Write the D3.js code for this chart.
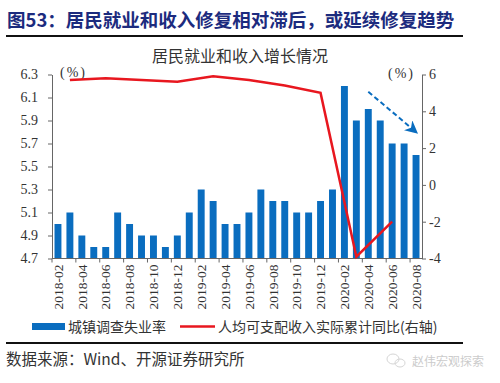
<!DOCTYPE html>
<html>
<head>
<meta charset="utf-8">
<script src="https://cdn.jsdelivr.net/npm/d3@7"></script>
<style>
  body { margin: 0; background: #fff; }
</style>
</head>
<body>
<div id="chart"></div>
<script>
const months = [
  "2018-02","2018-03","2018-04","2018-05","2018-06","2018-07","2018-08","2018-09","2018-10","2018-11","2018-12",
  "2019-01","2019-02","2019-03","2019-04","2019-05","2019-06","2019-07","2019-08","2019-09","2019-10","2019-11","2019-12",
  "2020-01","2020-02","2020-03","2020-04","2020-05","2020-06","2020-07","2020-08"
];
const unemployment = [
  5.0,5.1,4.9,4.8,4.8,5.1,5.0,4.9,4.9,4.8,4.9,
  5.1,5.3,5.2,5.0,5.0,5.1,5.3,5.2,5.2,5.1,5.1,5.2,
  5.3,6.2,5.9,6.0,5.9,5.7,5.7,5.6
];
const incomeMonths = ["2018-03","2018-06","2018-09","2018-12","2019-03","2019-06","2019-09","2019-12","2020-03","2020-06"];
const income = [5.7, 5.8, 5.7, 5.6, 5.9, 5.7, 5.4, 5.0, -3.9, -2.0];
const leftTicks = [4.7, 4.9, 5.1, 5.3, 5.5, 5.7, 5.9, 6.1, 6.3];
const rightTicks = [-4, -2, 0, 2, 4, 6];
const labelMonths = months.filter((m, i) => i % 2 === 0);

const width = 500, height = 383;
const plotLeft = 52, plotRight = 422, plotTop = 74.5, plotBottom = 258.5;
const serif = "'Liberation Serif', 'Times New Roman', serif";
const cjk = "'Noto Sans CJK SC', sans-serif";
const blue = "#0a6dbf", red = "#e8171f";

let svg = d3.select("#chart").append("svg")
  .attr("width", width)
  .attr("height", height);

// header
svg.append("text")
  .attr("x", 7).attr("y", 27)
  .style("font-family", cjk)
  .style("font-size", "18.5px")
  .style("font-weight", "bold")
  .style("fill", "#1c2b7e")
  .text("图53：居民就业和收入修复相对滞后，或延续修复趋势");

svg.append("line")
  .attr("x1", 6).attr("x2", 463).attr("y1", 36).attr("y2", 36)
  .style("stroke", "#111").style("stroke-width", 2);

svg.append("text")
  .attr("x", 240).attr("y", 62)
  .attr("text-anchor", "middle")
  .style("font-family", cjk)
  .style("font-size", "16px")
  .style("fill", "#333")
  .text("居民就业和收入增长情况");

const x = d3.scaleBand().domain(months).range([plotLeft, plotRight])
  .paddingInner(0.42).paddingOuter(0.21);
const yL = d3.scaleLinear().domain([4.7, 6.3]).range([plotBottom, plotTop]);
const yR = d3.scaleLinear().domain([-4, 6]).range([plotBottom, plotTop]);

// bars
svg.append("g").selectAll("rect")
  .data(unemployment)
  .enter()
  .append("rect")
  .attr("x", (d, i) => x(months[i]))
  .attr("y", d => yL(d))
  .attr("width", x.bandwidth())
  .attr("height", d => plotBottom - yL(d))
  .style("fill", blue);

// axes
function styleAxis(g) {
  g.select(".domain").style("stroke", "#666");
  g.selectAll(".tick line").style("stroke", "#666");
  g.selectAll("text")
    .style("font-family", serif)
    .style("font-size", "14px")
    .style("fill", "#333");
}

svg.append("g")
  .attr("transform", "translate(" + plotLeft + ",0)")
  .call(d3.axisLeft(yL).tickValues(leftTicks).tickSize(4).tickSizeOuter(0)
    .tickPadding(10).tickFormat(d3.format(".1f")))
  .call(styleAxis);

svg.append("g")
  .attr("transform", "translate(" + plotRight + ",0)")
  .call(d3.axisRight(yR).tickValues(rightTicks).tickSize(4).tickSizeOuter(0)
    .tickPadding(3).tickFormat(d => String(d)))
  .call(styleAxis);

// x axis
let xg = svg.append("g");
xg.append("line")
  .attr("x1", plotLeft).attr("x2", plotRight).attr("y1", plotBottom).attr("y2", plotBottom)
  .style("stroke", "#666");
xg.selectAll(".xtick")
  .data(labelMonths)
  .enter()
  .append("line")
  .attr("x1", d => x(d) - x.step() * x.paddingOuter())
  .attr("x2", d => x(d) - x.step() * x.paddingOuter())
  .attr("y1", plotBottom).attr("y2", plotBottom + 4)
  .style("stroke", "#666");
xg.selectAll(".xlabel")
  .data(labelMonths)
  .enter()
  .append("text")
  .attr("transform", d => "translate(" + (x(d) + x.bandwidth() / 2) + "," + (plotBottom + 6) + ") rotate(-90)")
  .attr("text-anchor", "end")
  .attr("dy", "0.35em")
  .style("font-family", serif)
  .style("font-size", "13.5px")
  .style("fill", "#333")
  .text(d => d);

// unit labels
svg.append("text")
  .attr("x", 60).attr("y", 77)
  .style("font-family", serif).style("font-size", "14px")
  .style("letter-spacing", "2px").style("fill", "#333")
  .text("(%)");
svg.append("text")
  .attr("x", 388).attr("y", 78)
  .style("font-family", serif).style("font-size", "14px")
  .style("letter-spacing", "2px").style("fill", "#333")
  .text("(%)");

// income line
const line = d3.line()
  .x((d, i) => x(incomeMonths[i]) + x.bandwidth() / 2)
  .y(d => yR(d));
svg.append("path")
  .datum(income)
  .attr("d", line)
  .style("fill", "none")
  .style("stroke", red)
  .style("stroke-width", 2.5);

// dashed arrow annotation
svg.append("defs").append("marker")
  .attr("id", "arrow")
  .attr("viewBox", "0 0 10 10")
  .attr("refX", 8).attr("refY", 5)
  .attr("markerWidth", 6.5).attr("markerHeight", 6.5)
  .attr("orient", "auto")
  .append("path")
  .attr("d", "M0,0 L10,5 L0,10 L3,5 Z")
  .style("fill", blue);
svg.append("line")
  .attr("x1", x("2020-04") + x.bandwidth() / 2).attr("y1", yL(6.15))
  .attr("x2", x("2020-08") + x.bandwidth() / 2).attr("y2", yL(5.8))
  .style("stroke", blue)
  .style("stroke-width", 2)
  .style("stroke-dasharray", "5,3")
  .attr("marker-end", "url(#arrow)");

// legend
svg.append("rect")
  .attr("x", 32).attr("y", 323).attr("width", 33).attr("height", 7)
  .style("fill", blue);
svg.append("text")
  .attr("x", 68).attr("y", 332)
  .style("font-family", cjk).style("font-size", "14px").style("fill", "#333")
  .text("城镇调查失业率");
svg.append("line")
  .attr("x1", 180).attr("x2", 215).attr("y1", 326.5).attr("y2", 326.5)
  .style("stroke", red).style("stroke-width", 2.5);
svg.append("text")
  .attr("x", 218).attr("y", 332)
  .style("font-family", cjk).style("font-size", "14px").style("fill", "#333")
  .text("人均可支配收入实际累计同比(右轴)");

// footer
svg.append("line")
  .attr("x1", 6).attr("x2", 463).attr("y1", 343).attr("y2", 343)
  .style("stroke", "#111").style("stroke-width", 2);
svg.append("text")
  .attr("x", 6).attr("y", 365)
  .style("font-family", cjk).style("font-size", "15.5px").style("fill", "#333")
  .text("数据来源：Wind、开源证券研究所");

// watermark
let wm = svg.append("g").style("opacity", 0.6);
wm.append("ellipse").attr("cx", 393).attr("cy", 359).attr("rx", 6).attr("ry", 5)
  .style("fill", "none").style("stroke", "#bbb");
wm.append("ellipse").attr("cx", 400).attr("cy", 363).attr("rx", 5).attr("ry", 4)
  .style("fill", "none").style("stroke", "#bbb");
wm.append("text")
  .attr("x", 412).attr("y", 366)
  .style("font-family", cjk).style("font-size", "12px").style("fill", "#aaa")
  .text("赵伟宏观探索");
</script>
</body>
</html>
